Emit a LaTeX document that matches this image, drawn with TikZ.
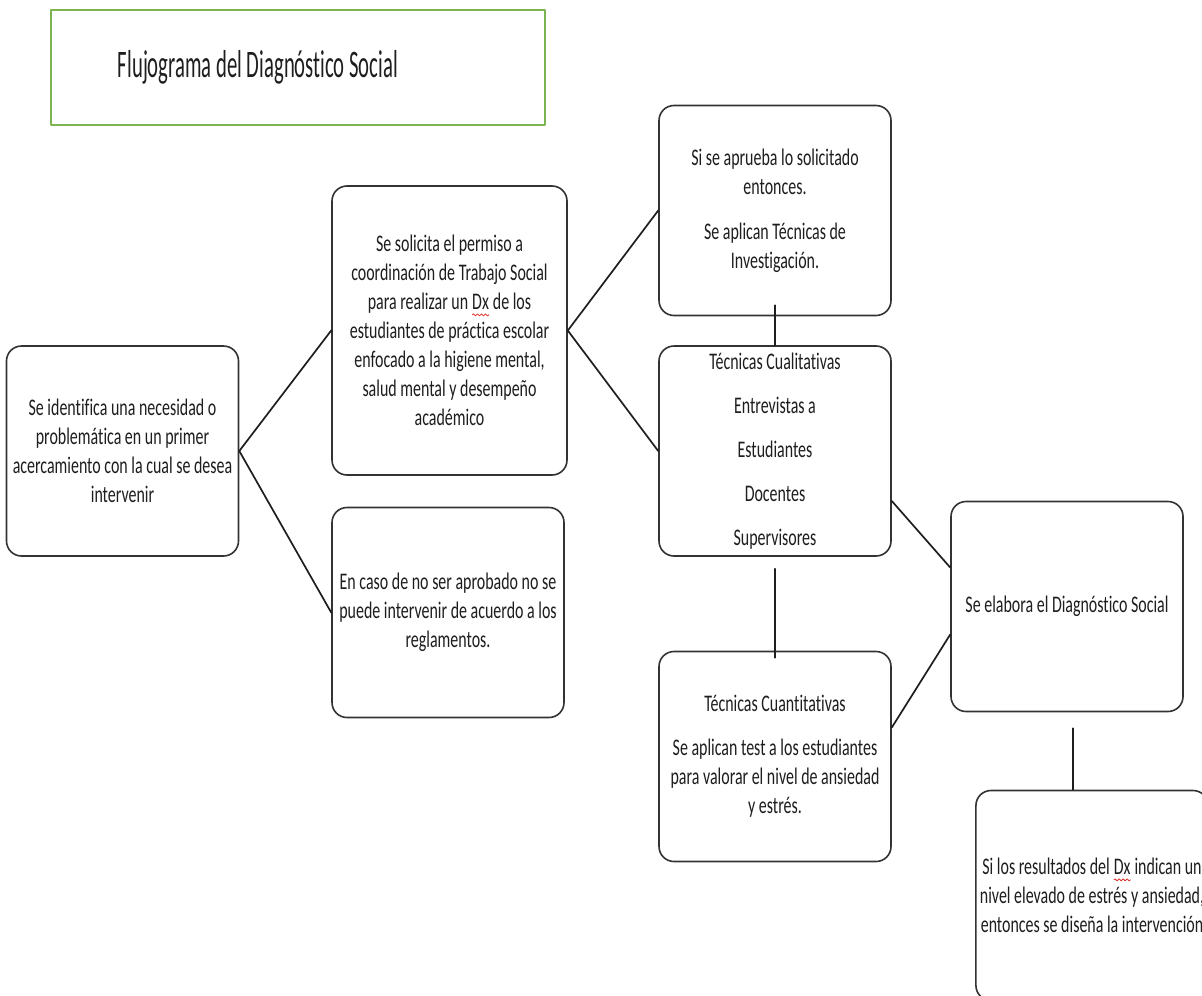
\documentclass[tikz,border=0pt]{standalone}
\usepackage{fontspec}
\setmainfont{Carlito}[FakeStretch=0.67,Ligatures=NoCommon]
\newfontfamily\fdtitlefont{Carlito}[FakeStretch=0.53,Ligatures=NoCommon]
\usetikzlibrary{decorations.pathmorphing}
\definecolor{fdInk}{HTML}{1E1E1E}
\definecolor{fdLine}{HTML}{333333}
\definecolor{fdGreen}{HTML}{7CB452}
\definecolor{fdRed}{HTML}{E0302A}
\tikzset{
  fd diagram/.style={font=\fontsize{11.9}{14.5}\selectfont, text=fdInk,
    line cap=round, line join=round},
  fd box/.style={draw=fdLine, fill=white, line width=0.8pt,
    rounded corners=7.5pt, align=center, inner sep=2pt,
    minimum width=116pt, minimum height=105pt},
  fd title/.style={draw=fdGreen, line width=0.9pt, minimum width=247pt,
    minimum height=57.5pt, font=\fdtitlefont\fontsize{19.5}{23}\selectfont},
  fd link/.style={draw=fdInk, line width=0.85pt}
}
\newcommand{\spell}[1]{\tikz[baseline=(w.base),x=1pt,y=1pt]{%
  \node[inner sep=0pt, outer sep=0pt, draw=none, fill=none,
    minimum width=0pt, minimum height=0pt] (w) {#1};
  \draw[fdRed, sharp corners, line width=0.4pt, decorate,
    decoration={snake, amplitude=0.5pt, segment length=2pt}]
    ([yshift=-2.6pt]w.base west) -- ([yshift=-2.6pt]w.base east);}}

\begin{document}
\begin{tikzpicture}[fd diagram,x=0.5pt,y=-0.5pt]
\useasboundingbox (0,0) rectangle (1202,995);
\clip (0,0) rectangle (1202,995);
\node[fd title] (title) at (298,67.5) {Flujograma del Diagnóstico Social\hspace*{40pt}};
\node[fd box] (need) at (122.5,451) {Se identifica una necesidad o\\problemática en un primer\\acercamiento con la cual se desea\\intervenir};
\node[fd box, minimum width=117.5pt, minimum height=144.5pt] (permit) at (449.5,330.5) {Se solicita el permiso a\\coordinación de Trabajo Social\\para realizar un \spell{Dx} de los\\estudiantes de práctica escolar\\enfocado a la higiene mental,\\salud mental y desempeño\\académico};
\node[fd box] (denied) at (448,612.5) {En caso de no ser aprobado no se\\puede intervenir de acuerdo a los\\reglamentos.};
\node[fd box] (approved) at (775,210.5) {Si se aprueba lo solicitado\\entonces.\\[8pt]Se aplican Técnicas de\\Investigación.};
\node[fd box] (quali) at (775,451) {Técnicas Cualitativas\\[7.5pt]Entrevistas a\\[7.5pt]Estudiantes\\[7.5pt]Docentes\\[7.5pt]Supervisores};
\node[fd box] (quanti) at (775,756.5) {Técnicas Cuantitativas\\[7.5pt]Se aplican test a los estudiantes\\para valorar el nivel de ansiedad\\y estrés.};
\node[fd box] (result) at (1067,606.5) {Se elabora el Diagnóstico Social};
\node[fd box] (plan) at (1092,895.5) {Si los resultados del \spell{Dx} indican un\\nivel elevado de estrés y ansiedad,\\entonces se diseña la intervención};
\draw[fd link] (need.east) -- (permit.west);
\draw[fd link] (need.east) -- (denied.west);
\draw[fd link] (permit.east) -- (approved.west);
\draw[fd link] (permit.east) -- (quali.west);
\draw[fd link] ([yshift=5.5pt]approved.south) -- (quali.north);
\draw[fd link] ([yshift=-6pt]quali.south) -- ([yshift=-3.5pt]quanti.north);
\draw[fd link] ([yshift=-25pt]quali.east) -- ([yshift=19.5pt]result.west);
\draw[fd link] ([yshift=14.5pt]quanti.east) -- ([yshift=-14pt]result.west);
\coordinate (result foot) at ([xshift=3pt,yshift=-8pt]result.south);
\draw[fd link] (result foot) -- (result foot |- plan.north);
\end{tikzpicture}
\end{document}
